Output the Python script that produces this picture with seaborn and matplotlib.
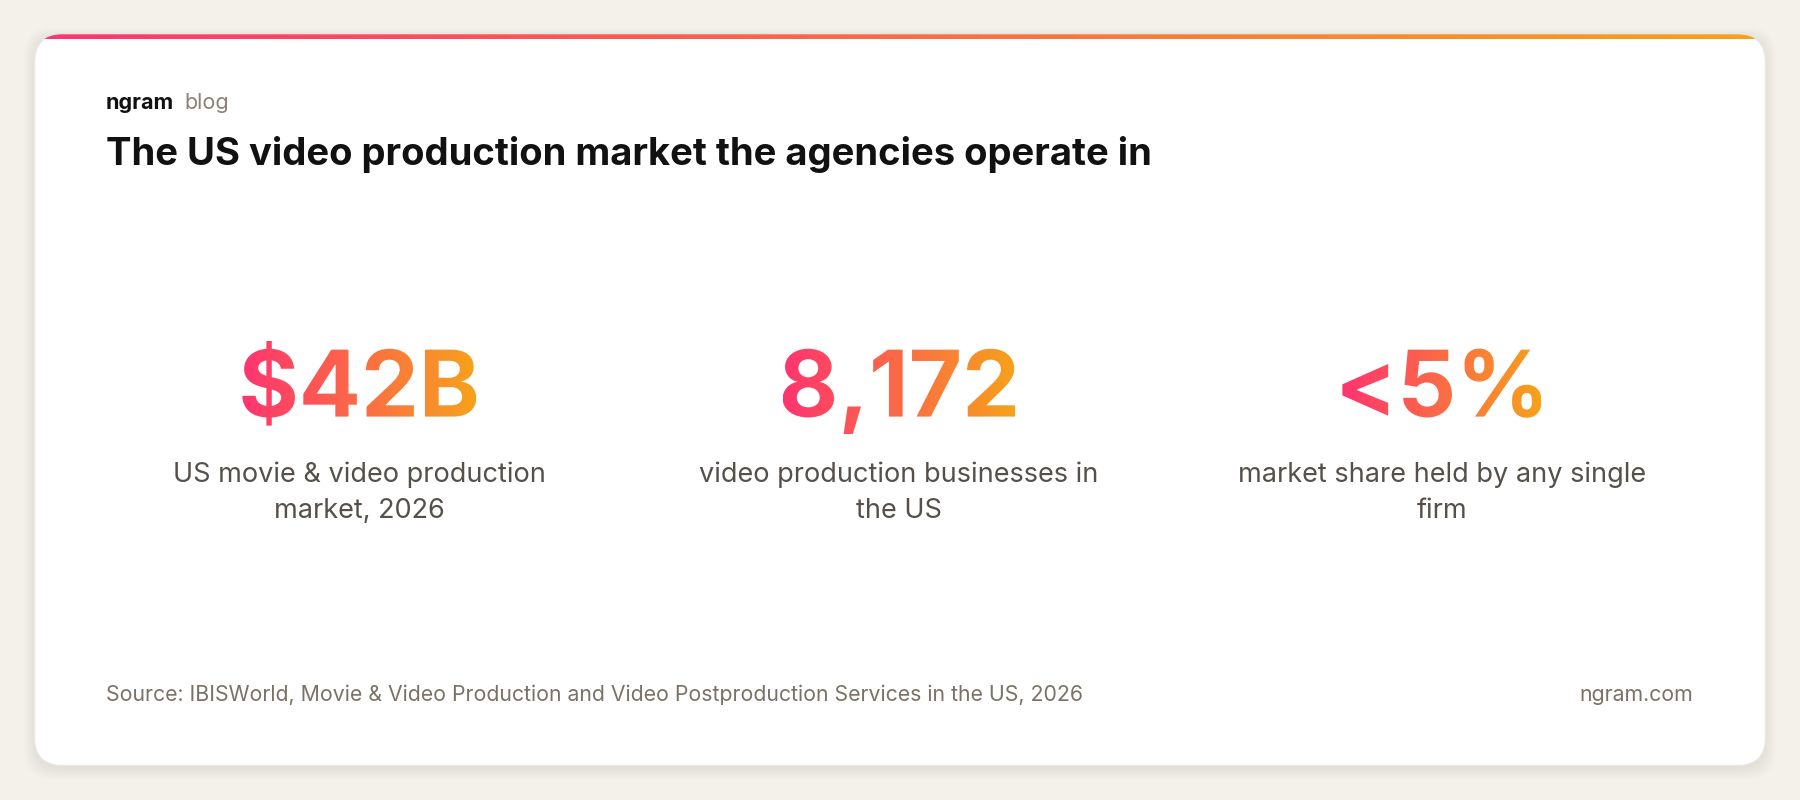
import numpy as np
import matplotlib
matplotlib.use("Agg")
import matplotlib.pyplot as plt
import seaborn as sns
from matplotlib.patches import FancyBboxPatch, PathPatch
from matplotlib.textpath import TextPath
from matplotlib.font_manager import FontProperties
from matplotlib.colors import LinearSegmentedColormap
from matplotlib.transforms import Affine2D

stats = ["$42B", "8,172", "<5%"]
captions = ["US movie & video production\nmarket, 2026",
            "video production businesses in\nthe US",
            "market share held by any single\nfirm"]
title = "The US video production market the agencies operate in"
source = "Source: IBISWorld, Movie & Video Production and Video Postproduction Services in the US, 2026"

sns.set_theme(style="white")
plt.rcParams['font.family'] = ['Inter', 'DejaVu Sans']

W, H = 1800, 800
fig = plt.figure(figsize=(18, 8), dpi=100, facecolor="#f4f1eb")
ax = fig.add_axes([0, 0, 1, 1])
ax.set_xlim(0, W); ax.set_ylim(0, H); ax.axis("off")

grad = LinearSegmentedColormap.from_list("g", ["#ff3470", "#f7a21b"])
s = W / 1568
cx0, cy0, cx1, cy1 = 30*s, (697-667)*s, 1538*s, (697-30)*s
for i in range(6):
    ax.add_patch(FancyBboxPatch((cx0-i*2, cy0-i*2-3), cx1-cx0+i*4, cy1-cy0+i*4,
                 boxstyle="round,pad=0,rounding_size=28", fc="black", ec="none", alpha=0.012))
card = FancyBboxPatch((cx0, cy0), cx1-cx0, cy1-cy0, boxstyle="round,pad=0,rounding_size=28",
                      fc="white", ec="#ebe7e0", lw=1)
ax.add_patch(card)
g = np.linspace(0, 1, 256)[None, :]
im = ax.imshow(g, cmap=grad, extent=(cx0, cx1, cy1-5, cy1), aspect="auto", zorder=3)
im.set_clip_path(card)

ax.text(92*s, (697-95)*s, "ngram", fontsize=15.5, fontweight="bold", color="#111111", va="baseline")
ax.text(161*s, (697-95)*s, "blog", fontsize=15.5, color="#8a8275", va="baseline")
ax.text(92*s, (697-144)*s, title, fontsize=27.5, fontweight="bold", color="#111111", va="baseline")

fp = FontProperties(family="Inter", weight="bold")
centers = [313*s, 783*s, 1256*s]
for c, st, cap in zip(centers, stats, captions):
    tp = TextPath((0, 0), st, size=92, prop=fp)
    bb = tp.get_extents()
    tr = Affine2D().translate(c - (bb.x0+bb.x1)/2, (697-363)*s)
    path = tr.transform_path(tp)
    patch = PathPatch(path, fc="none", ec="none")
    ax.add_patch(patch)
    e = path.get_extents()
    im = ax.imshow(g, cmap=grad, extent=(e.x0, e.x1, e.y0, e.y1), aspect="auto", zorder=4)
    im.set_clip_path(patch)
    ax.text(c, (697-451)*s, cap, fontsize=19.5, color="#555049", ha="center", va="baseline",
            linespacing=1.5)
ax.set_xlim(0, W); ax.set_ylim(0, H)

ax.text(92*s, (697-611)*s, source, fontsize=15.3, color="#7a7266", va="baseline")
ax.text(1475*s, (697-611)*s, "ngram.com", fontsize=15.3, color="#7a7266", va="baseline", ha="right")

fig.savefig("out.png", dpi=100, facecolor=fig.get_facecolor())
